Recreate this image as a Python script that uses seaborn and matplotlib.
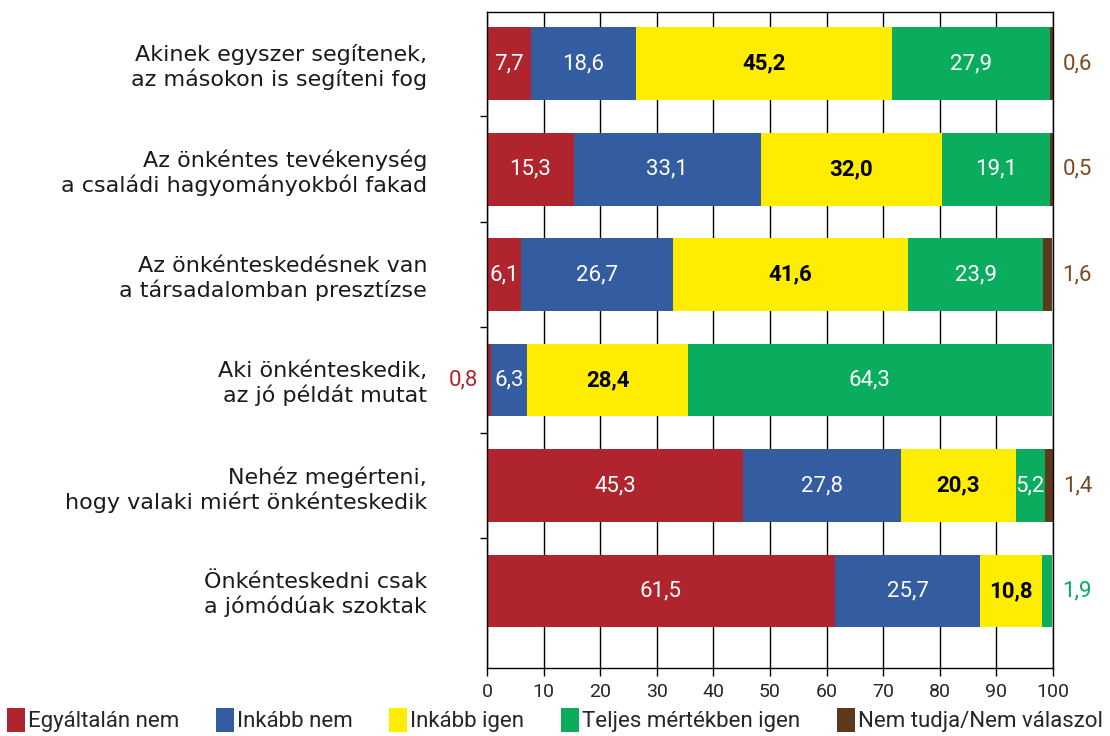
import matplotlib
matplotlib.use("Agg")
import matplotlib.pyplot as plt
import matplotlib.patches as mpatches
from matplotlib.ticker import FixedLocator
import numpy as np
import pandas as pd
import seaborn as sns

categories = [
    "Akinek egyszer segítenek,\naz másokon is segíteni fog",
    "Az önkéntes tevékenység\na családi hagyományokból fakad",
    "Az önkénteskedésnek van\na társadalomban presztízse",
    "Aki önkénteskedik,\naz jó példát mutat",
    "Nehéz megérteni,\nhogy valaki miért önkénteskedik",
    "Önkénteskedni csak\na jómódúak szoktak",
]
series = ["Egyáltalán nem", "Inkább nem", "Inkább igen", "Teljes mértékben igen", "Nem tudja/Nem válaszol"]
egyaltalan_nem = [7.7, 15.3, 6.1, 0.8, 45.3, 61.5]
inkabb_nem = [18.6, 33.1, 26.7, 6.3, 27.8, 25.7]
inkabb_igen = [45.2, 32.0, 41.6, 28.4, 20.3, 10.8]
teljes_igen = [27.9, 19.1, 23.9, 64.3, 5.2, 1.9]
nem_tudja = [0.6, 0.5, 1.6, 0.0, 1.4, 0.0]
x_ticks = [0, 10, 20, 30, 40, 50, 60, 70, 80, 90, 100]

colors = ["#B0252D", "#345CA0", "#FFED00", "#0AAD5E", "#5E3A1C"]
text_colors = ["#B0252D", "#345CA0", "#000000", "#0AAD5E", "#7A4A22"]
inside_colors = ["white", "white", "black", "white", "white"]

sns.set_theme(style="white")
cond = ["Roboto", "DejaVu Sans"]
plt.rcParams["font.family"] = ["DejaVu Sans"]

vals = np.array([egyaltalan_nem, inkabb_nem, inkabb_igen, teljes_igen, nem_tudja])
cum = np.cumsum(vals, axis=0)

fig = plt.figure(figsize=(11.1, 7.36), dpi=100)
ax = fig.add_axes([0.4387, 0.0924, 0.5099, 0.8913])

for k in reversed(range(5)):
    df = pd.DataFrame({"cat": categories, "val": cum[k]})
    sns.barplot(data=df, x="val", y="cat", color=colors[k], orient="h",
                width=0.69, saturation=1, linewidth=0, edgecolor="none", ax=ax, zorder=2)

for i in range(len(categories)):
    for k in range(5):
        v = vals[k, i]
        if v <= 0:
            continue
        left = cum[k, i] - v
        label = f"{v:.1f}".replace(".", ",")
        if v >= 2:
            ax.text(left + v / 2, i, label, ha="center", va="center", fontsize=16,
                    color=inside_colors[k], family=cond,
                    fontweight="bold" if k == 2 else "normal", zorder=3)
        elif k == 0:
            ax.text(-1.5, i, label, ha="right", va="center", fontsize=16,
                    color=text_colors[k], family=cond, zorder=3, clip_on=False)
        else:
            ax.text(cum[k, i] + 1.8, i, label, ha="left", va="center", fontsize=16,
                    color=text_colors[k], family=cond, zorder=3, clip_on=False)

ax.set_xlim(0, 100)
ax.set_ylim(5.73, -0.49)
ax.xaxis.set_major_locator(FixedLocator(x_ticks))
ax.set_xticklabels([str(t) for t in x_ticks], family=cond, fontsize=14)
ax.grid(axis="x", color="black", linewidth=1)
ax.grid(axis="y", visible=False)
ax.set_axisbelow(True)
ax.set_xlabel("")
ax.set_ylabel("")
for s in ax.spines.values():
    s.set_visible(True)
    s.set_color("black")
    s.set_linewidth(1)
ax.tick_params(axis="y", which="major", length=0, pad=43, labelsize=16, labelcolor="#1a1a1a")
for lab in ax.get_yticklabels():
    lab.set_horizontalalignment("right")
    lab.set_linespacing(1.2)
ax.yaxis.set_minor_locator(FixedLocator([0.5, 1.5, 2.5, 3.5, 4.5]))
ax.tick_params(axis="y", which="minor", left=True, length=5, width=1, color="black")
ax.tick_params(axis="x", which="major", bottom=True, length=6, width=1, color="black",
               labelsize=14, pad=5)

handles = [mpatches.Patch(facecolor=c, edgecolor="none", label=s) for c, s in zip(colors, series)]
leg = fig.legend(handles=handles, loc="center", bbox_to_anchor=(0.5, 0.022), ncol=5,
                 frameon=False, handlelength=0.8, handleheight=1.3, handletextpad=0.15,
                 columnspacing=1.65, borderpad=0.1, prop={"family": cond, "size": 16})

fig.savefig("out.png", dpi=100)
